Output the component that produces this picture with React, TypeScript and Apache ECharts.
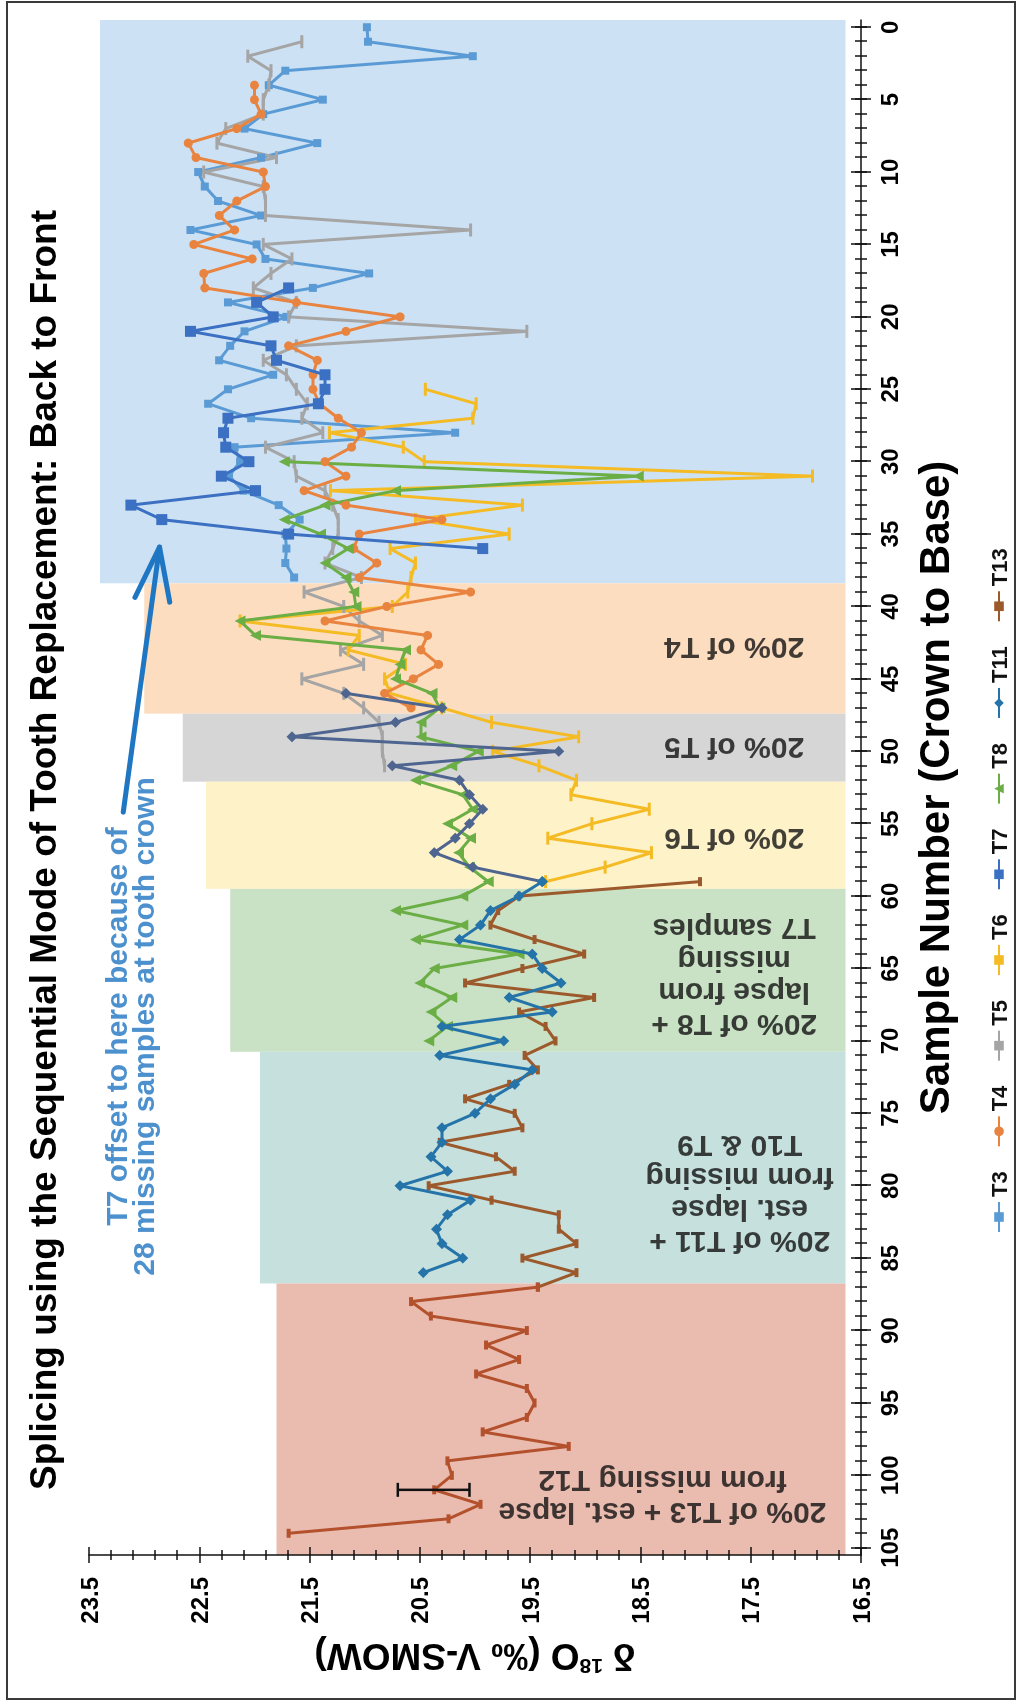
import React, { useEffect, useRef } from "react";
import * as echarts from "echarts";

// Landscape drawing surface; the element is turned a quarter turn so the
// sample axis runs down the right-hand side of the page.
const LW = 1702;
const LH = 1021;

const FONT = '"Liberation Sans", Arial, Helvetica, sans-serif';

// Sample-number axis ticks and labels
const SAMPLE_LABELS = [0, 5, 10, 15, 20, 25, 30, 35, 40, 45, 50, 55, 60, 65, 70, 75, 80, 85, 90, 95, 100, 105];
const SAMPLE_MINOR = Array.from({ length: 106 }, (_, i) => i);

// δ18O series (‰ V-SMOW), one value per sample, starting at the given sample number
const T3_START = 0;
const T3 = [20.98, 20.97, 20.02, 21.72, 21.87, 21.38, 21.92, 22.09, 21.43, 21.94, 22.51, 22.45, 22.33, 21.94, 22.58, 21.98, 21.9, 20.96, 21.47, 22.24, 21.71, 22.09, 22.22, 22.32, 21.83, 22.24, 22.42, 22.03, 20.18, 22.18, 22.13, 22.23, 22.1, 21.78, 21.59, 21.72, 21.71, 21.72, 21.64];

const T4_START = 4;
const T4 = [22.0, 22.0, 21.94, 22.16, 22.6, 22.53, 21.92, 21.9, 22.16, 22.32, 22.18, 22.55, 22.02, 22.46, 22.45, 21.62, 20.68, 21.17, 21.69, 21.43, 21.47, 21.47, 21.41, 21.24, 21.03, 21.12, 21.36, 21.17, 21.55, 21.17, 20.3, 21.05, 21.1, 20.89, 21.05, 20.04, 20.8, 21.36, 20.43, 20.49, 20.33, 20.56, 20.82, 20.58];

const T5_START = 1;
const T5 = [21.57, 22.06, 21.85, 21.87, 21.92, 21.92, 22.26, 22.34, 21.8, 22.46, 21.92, 21.9, 21.9, 20.04, 21.92, 21.66, 21.85, 22.01, 21.62, 21.69, 19.53, 21.62, 21.92, 21.71, 21.62, 21.52, 21.57, 21.38, 21.9, 21.64, 21.62, 21.36, 21.29, 21.24, 21.24, 21.29, 21.36, 21.03, 21.55, 21.19, 21.05, 20.84, 21.22, 21.01, 21.57, 21.19, 21.01, 20.87, 20.84, 20.84, 20.82];

const T6_START = 25;
const T6 = [20.45, 19.99, 20.02, 21.32, 20.65, 20.46, 16.94, 21.31, 19.57, 20.54, 19.69, 20.77, 20.54, 20.58, 20.61, 20.75, 22.13, 21.05, 21.15, 20.63, 20.82, 20.77, 20.3, 19.85, 19.06, 19.84, 19.42, 19.08, 19.13, 18.42, 18.94, 19.34, 18.4, 18.82, 19.36];

const T7_START = 18;
const T7 = [21.69, 21.98, 21.83, 22.58, 21.85, 21.8, 21.36, 21.36, 21.42, 22.24, 22.28, 22.26, 22.05, 22.3, 21.99, 23.12, 22.84, 21.69, 19.93];

const T8_START = 30;
const T8 = [21.73, 18.52, 20.72, 21.36, 21.73, 21.4, 21.15, 21.36, 21.17, 21.1, 21.08, 22.13, 21.99, 20.63, 20.68, 20.72, 20.39, 20.32, 20.49, 20.49, 19.97, 20.21, 20.54, 20.11, 20.02, 20.25, 20.04, 20.15, 20.05, 19.88, 20.11, 20.72, 20.11, 20.54, 19.6, 20.37, 20.5, 20.21, 20.4, 20.25, 20.42];

const T11A_START = 46;
const T11A = [21.17, 20.3, 20.72, 21.66, 19.24, 20.75, 20.14, 20.05, 19.93, 20.05, 20.18, 20.37, 20.02, 19.39];

const T11_START = 59;
const T11 = [19.39, 19.6, 19.86, 19.95, 20.14, 19.48, 19.39, 19.22, 19.69, 19.3, 20.3, 19.74, 20.32, 19.48, 19.64, 19.86, 20.0, 20.3, 20.3, 20.4, 20.25, 20.68, 20.04, 20.25, 20.35, 20.3, 20.11, 20.47];

// T13 in two shades: through the T11 lapse, then through the T12 lapse
const T13_START = 59;
const T13 = [17.96, 19.6, 19.79, 19.86, 19.46, 19.01, 19.57, 20.09, 18.92, 19.6, 19.36, 19.27, 19.55, 19.43, 19.69, 20.09, 19.64, 19.57, 20.32, 19.81, 19.64, 20.42, 19.85, 19.24, 19.24, 19.08, 19.57, 19.08, 19.43];
const T13B_START = 87;
const T13B = [19.43, 20.58, 20.4, 19.53, 19.9, 19.6, 19.99, 19.53, 19.46, 19.53, 19.93, 19.15, 20.25, 20.21, 20.37, 19.95, 20.24, 21.69];

// Analytical uncertainty on one T13 sample: [sample, low, high]
const ERROR_BAR = [[101, 20.05, 20.7]];

// Shaded splice segments: [first sample, last sample, δ left edge, δ right edge]
const BANDS = [
  [-0.5, 38.4, 23.4, 16.64],
  [38.4, 47.4, 23.0, 16.64],
  [47.4, 52.1, 22.65, 16.64],
  [52.1, 59.5, 22.44, 16.64],
  [59.5, 70.75, 22.22, 16.64],
  [70.75, 86.75, 21.95, 16.64],
  [86.75, 105.5, 21.8, 16.64],
];
const BAND_COLORS = ["#cce1f4", "#fcddbf", "#d6d6d6", "#fef2c9", "#c9e1c4", "#c5e0dd", "#eabcb0"];

const BAND_TEXT = [
  "20% of T4",
  "20% of T5",
  "20% of T6",
  "20% of T8 +\nlapse from\nmissing\nT7 samples",
  "20% of T11 +\nest. lapse\nfrom missing\nT10 & T9",
  "20% of T13 + est. lapse\nfrom missing T12",
];
const BAND_TEXT_SAMPLE = [42.9, 49.8, 56.1, 65.6, 80.6, 101.5];
const BAND_TEXT_D = [17.65, 17.65, 17.65, 17.65, 17.6, 18.3];

// T7 offset note and its arrow: [tail sample, tail δ, tip sample, tip δ]
const NOTE_TEXT = "T7 offset to here because of\n28 missing samples at tooth crown";
const NOTE_POS = [69.0, 23.13];
const ARROW = [[54.2, 23.19, 35.9, 22.86]];

const LEGEND_NAMES = ["T3", "T4", "T5", "T6", "T7", "T8", "T11", "T13"];

function pairs(start: number, values: number[]) {
  return values.map((v, i) => [start + i, v]);
}

function lineSeries(name: string, start: number, values: number[], color: string, symbol: string, size: any, z = 3) {
  return {
    type: "line",
    name,
    data: pairs(start, values),
    color,
    symbol,
    symbolSize: size,
    showSymbol: true,
    lineStyle: { color, width: 3 },
    itemStyle: { color, borderWidth: 0 },
    z,
    silent: true,
  };
}

function buildOption() {
  const axisColor = "#111";
  const sampleBase: any = {
    type: "value",
    min: -0.5,
    max: 105.5,
    inverse: true,
    position: "bottom",
    splitLine: { show: false },
  };
  const dBase: any = {
    type: "value",
    min: 16.5,
    max: 23.5,
    interval: 1,
    position: "left",
    splitLine: { show: false },
  };
  const tickLine = { color: axisColor, width: 1.5 };

  return {
    animation: false,
    backgroundColor: "#ffffff",
    textStyle: { fontFamily: FONT },
    grid: { left: 147, right: 20, top: 89, bottom: 160, containLabel: false },
    graphic: [
      {
        type: "rect",
        shape: { x: 3, y: 7, width: 1697, height: 1008 },
        style: { fill: "none", stroke: "#3a3a3a", lineWidth: 2 },
        silent: true,
      },
      {
        type: "text",
        x: 212,
        y: 43,
        style: {
          text: "Splicing using the Sequential Mode of Tooth Replacement: Back to Front",
          fontSize: 37,
          fontWeight: "bold",
          fontFamily: FONT,
          fill: "#000",
          align: "left",
          verticalAlign: "middle",
        },
        silent: true,
      },
    ],
    legend: {
      data: LEGEND_NAMES,
      left: 464,
      top: 983,
      itemWidth: 30,
      itemHeight: 12,
      itemGap: 24,
      textStyle: { fontSize: 22, fontWeight: "bold", color: "#111", fontFamily: FONT },
      selectedMode: false,
    },
    xAxis: [
      {
        ...sampleBase,
        axisLine: { show: true, onZero: false, lineStyle: tickLine },
        axisTick: { show: true, customValues: SAMPLE_LABELS, length: 10, lineStyle: tickLine },
        axisLabel: {
          show: true,
          customValues: SAMPLE_LABELS,
          fontSize: 24,
          fontWeight: "bold",
          color: "#000",
          margin: 16,
          fontFamily: FONT,
        },
        name: "Sample Number (Crown to Base)",
        nameLocation: "middle",
        nameGap: 52,
        nameTextStyle: { fontSize: 42, fontWeight: "bold", color: "#000", fontFamily: FONT },
      },
      {
        ...sampleBase,
        axisLine: { show: false, onZero: false },
        axisTick: { show: true, inside: true, customValues: SAMPLE_LABELS, length: 10, lineStyle: tickLine },
        axisLabel: { show: false },
      },
      {
        ...sampleBase,
        axisLine: { show: false, onZero: false },
        axisTick: { show: true, customValues: SAMPLE_MINOR, length: 6, lineStyle: tickLine },
        axisLabel: { show: false },
      },
      {
        ...sampleBase,
        axisLine: { show: false, onZero: false },
        axisTick: { show: true, inside: true, customValues: SAMPLE_MINOR, length: 6, lineStyle: tickLine },
        axisLabel: { show: false },
      },
    ],
    yAxis: [
      {
        ...dBase,
        axisLine: { show: true, onZero: false, lineStyle: tickLine },
        axisTick: { show: true, length: 8, lineStyle: tickLine },
        minorTick: { show: true, splitNumber: 5, length: 5, lineStyle: tickLine },
        axisLabel: {
          show: true,
          formatter: (v: number) => v.toFixed(1),
          fontSize: 24,
          fontWeight: "bold",
          color: "#000",
          margin: 22,
          fontFamily: FONT,
        },
        name: "{a|δ }{b|18}{a|O (‰ V-SMOW)}",
        nameLocation: "middle",
        nameRotate: 90,
        nameGap: 82,
        nameTextStyle: {
          color: "#000",
          rich: {
            a: { fontSize: 37, fontWeight: "bold", fontFamily: FONT, lineHeight: 40, color: "#000" },
            b: { fontSize: 21, fontWeight: "bold", fontFamily: FONT, lineHeight: 21, verticalAlign: "top", color: "#000" },
          },
        },
      },
      {
        ...dBase,
        axisLine: { show: false, onZero: false },
        axisTick: { show: true, inside: true, length: 8, lineStyle: tickLine },
        minorTick: { show: true, splitNumber: 5, length: 5, lineStyle: tickLine },
        axisLabel: { show: false },
      },
    ],
    series: [
      {
        type: "custom",
        name: "bands",
        data: BANDS,
        z: 0,
        silent: true,
        encode: { x: [0, 1], y: [2, 3] },
        renderItem: (params: any, api: any) => {
          const p0 = api.coord([api.value(0), api.value(2)]);
          const p1 = api.coord([api.value(1), api.value(3)]);
          return {
            type: "rect",
            shape: {
              x: Math.min(p0[0], p1[0]),
              y: Math.min(p0[1], p1[1]),
              width: Math.abs(p1[0] - p0[0]),
              height: Math.abs(p1[1] - p0[1]),
            },
            style: { fill: BAND_COLORS[params.dataIndex] },
          };
        },
      },
      lineSeries("T3", T3_START, T3, "#5b9bd5", "rect", 8, 3),
      lineSeries("T5", T5_START, T5, "#a5a5a5", "rect", [13, 3], 3),
      lineSeries("T4", T4_START, T4, "#e8843f", "circle", 9, 4),
      lineSeries("T6", T6_START, T6, "#f4bb24", "rect", [13, 3], 3),
      lineSeries("T7", T7_START, T7, "#3b70c2", "rect", 11, 5),
      lineSeries("T8", T8_START, T8, "#6aae45", "triangle", 11, 4),
      lineSeries("T11 (early)", T11A_START, T11A, "#4e6590", "diamond", 11, 5),
      lineSeries("T11", T11_START, T11, "#2574a9", "diamond", 11, 5),
      lineSeries("T13", T13_START, T13, "#9c592c", "rect", [9, 4], 4),
      lineSeries("T13", T13B_START, T13B, "#b4512d", "rect", [9, 4], 4),
      {
        type: "custom",
        name: "error",
        data: ERROR_BAR,
        z: 6,
        silent: true,
        encode: { x: 0, y: [1, 2] },
        renderItem: (params: any, api: any) => {
          const lo = api.coord([api.value(0), api.value(1)]);
          const hi = api.coord([api.value(0), api.value(2)]);
          const cap = 7;
          const st = { stroke: "#111", lineWidth: 2.5 };
          return {
            type: "group",
            children: [
              { type: "line", shape: { x1: lo[0], y1: lo[1], x2: hi[0], y2: hi[1] }, style: st },
              { type: "line", shape: { x1: lo[0] - cap, y1: lo[1], x2: lo[0] + cap, y2: lo[1] }, style: st },
              { type: "line", shape: { x1: hi[0] - cap, y1: hi[1], x2: hi[0] + cap, y2: hi[1] }, style: st },
            ],
          };
        },
      },
      {
        type: "custom",
        name: "arrow",
        data: ARROW,
        z: 7,
        silent: true,
        encode: { x: [0, 2], y: [1, 3] },
        renderItem: (params: any, api: any) => {
          const tail = api.coord([api.value(0), api.value(1)]);
          const tip = api.coord([api.value(2), api.value(3)]);
          const ang = Math.atan2(tail[1] - tip[1], tail[0] - tip[0]);
          const len = 56;
          const spread = 0.32;
          const a1 = [tip[0] + len * Math.cos(ang + spread), tip[1] + len * Math.sin(ang + spread)];
          const a2 = [tip[0] + len * Math.cos(ang - spread), tip[1] + len * Math.sin(ang - spread)];
          const st = { stroke: "#1f76c2", lineWidth: 5, fill: "none", lineCap: "round", lineJoin: "round" };
          return {
            type: "group",
            children: [
              { type: "line", shape: { x1: tail[0], y1: tail[1], x2: tip[0], y2: tip[1] }, style: st },
              { type: "polyline", shape: { points: [a1, tip, a2] }, style: st },
            ],
          };
        },
      },
      {
        type: "scatter",
        name: "band labels",
        symbolSize: 0,
        z: 8,
        silent: true,
        data: BAND_TEXT.map((t, i) => ({ name: t, value: [BAND_TEXT_SAMPLE[i], BAND_TEXT_D[i]] })),
        label: {
          show: true,
          position: "inside",
          formatter: "{b}",
          rotate: 90,
          align: "center",
          verticalAlign: "middle",
          fontSize: 30,
          fontWeight: "bold",
          lineHeight: 32,
          color: "#111",
          fontFamily: FONT,
        },
      },
      {
        type: "scatter",
        name: "note",
        symbolSize: 0,
        z: 8,
        silent: true,
        data: [{ name: NOTE_TEXT, value: NOTE_POS }],
        label: {
          show: true,
          position: "inside",
          formatter: "{b}",
          align: "center",
          verticalAlign: "middle",
          fontSize: 30,
          fontWeight: "bold",
          lineHeight: 27,
          color: "#1f76c2",
          fontFamily: FONT,
        },
      },
    ],
  };
}

export default function App() {
  const ref = useRef<HTMLDivElement>(null);
  useEffect(() => {
    if (!ref.current) return;
    const chart = echarts.init(ref.current, null, { renderer: "svg", width: LW, height: LH });
    chart.setOption(buildOption() as any);
    return () => chart.dispose();
  }, []);
  return (
    <div
      ref={ref}
      style={{
        position: "fixed",
        left: 0,
        top: 0,
        width: LW,
        height: LH,
        transformOrigin: "0 0",
        transform: `translateY(${LW}px) rotate(-90deg)`,
        background: "#fff",
      }}
    />
  );
}
